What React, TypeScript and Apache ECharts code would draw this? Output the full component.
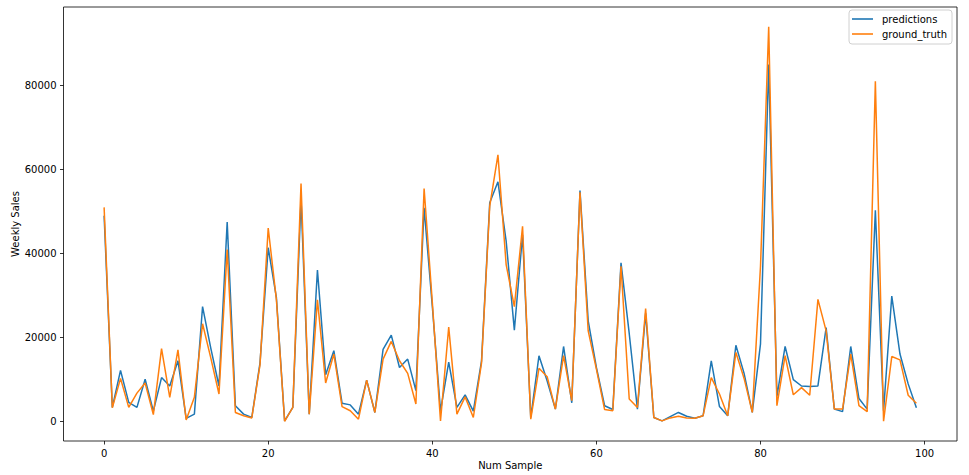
import React, { useEffect, useRef } from "react";
import * as echarts from "echarts";

const predictions = [
  49000, 3400, 12200, 4600, 3400, 10100, 2500, 10500, 8500, 14500,
  800, 1800, 27400, 17500, 8500, 47500, 3800, 1800, 1000, 14000,
  41400, 29500, 200, 3400, 53000, 1800, 36100, 11200, 16900, 4400,
  4000, 1800, 9900, 2200, 17200, 20600, 12900, 14900, 7400, 50900,
  27500, 2600, 14200, 3400, 6400, 2500, 14500, 52100, 57100, 43000,
  21800, 44500, 1000, 15700, 9700, 3000, 17900, 4500, 55000, 24000,
  12900, 3800, 2900, 37800, 21000, 3000, 25800, 1000, 200, 1200,
  2200, 1300, 800, 1400, 14500, 3600, 1400, 18200, 11500, 2200,
  18500, 85000, 6000, 17900, 10000, 8500, 8400, 8500, 22400, 3000,
  2400, 17900, 5500, 3000, 50300, 2600, 29900, 16100, 9000, 3300,
];

const groundTruth = [
  51000, 3300, 10300, 3400, 6800, 9200, 1700, 17400, 5800, 17100,
  400, 5800, 23300, 15200, 6600, 41000, 2200, 1400, 900, 13500,
  46100, 29000, 100, 3400, 56700, 1800, 29000, 9200, 16100, 3600,
  2600, 600, 9900, 2200, 14900, 19100, 14500, 11500, 4200, 55500,
  28500, 200, 22500, 1800, 5900, 1000, 14000, 51300, 63500, 37400,
  27400, 46500, 600, 12700, 10700, 3000, 15700, 5000, 54600, 21600,
  12500, 2900, 2600, 37000, 5400, 3400, 26900, 1000, 200, 900,
  1300, 900, 800, 1400, 10500, 6600, 1400, 16500, 10300, 2200,
  37000, 94000, 3800, 15700, 6400, 8100, 6300, 29100, 21600, 3000,
  3000, 16100, 3800, 2400, 81000, 100, 15500, 14700, 6300, 4400,
];

const xTicks = [0, 20, 40, 60, 80, 100];
const yTicks = [0, 20000, 40000, 60000, 80000];

const FONT = "DejaVu Sans";

export default function App() {
  const ref = useRef<HTMLDivElement>(null);

  useEffect(() => {
    if (!ref.current) return;
    const chart = echarts.init(ref.current, undefined, { renderer: "svg" });
    const n = predictions.length;
    const xMin = -0.05 * (n - 1);
    const xMax = (n - 1) * 1.05;
    const all = predictions.concat(groundTruth);
    const dMin = Math.min(...all);
    const dMax = Math.max(...all);
    const span = dMax - dMin;
    const yMin = dMin - 0.05 * span;
    const yMax = dMax + 0.05 * span;

    const axisCommon = {
      axisLine: { show: false, onZero: false },
      axisTick: {
        show: true,
        length: 3.5,
        inside: false,
        lineStyle: { color: "#000", width: 0.8 },
      },
      splitLine: { show: false },
    };

    chart.setOption({
      animation: false,
      backgroundColor: "#fff",
      grid: {
        left: 63.5,
        right: 12,
        top: 7,
        bottom: 34,
        show: true,
        borderColor: "#000",
        borderWidth: 0.8,
        backgroundColor: "#fff",
        outerBoundsMode: "none",
        containLabel: false,
      },
      legend: {
        orient: "vertical",
        left: 849,
        top: 10,
        padding: [3, 5, 4, 3],
        itemGap: 3,
        itemWidth: 21,
        itemHeight: 1.6,
        icon: "rect",
        borderColor: "#d0d0d0",
        borderWidth: 1,
        borderRadius: 3,
        backgroundColor: "rgba(255,255,255,0.8)",
        textStyle: {
          fontFamily: FONT,
          fontSize: 10,
          color: "#000",
          lineHeight: 12,
          padding: [0, 0, 0, 4],
        },
        data: ["predictions", "ground_truth"],
      },
      xAxis: {
        type: "value",
        min: xMin,
        max: xMax,
        ...axisCommon,
        axisTick: { ...axisCommon.axisTick, customValues: xTicks },
        axisLabel: {
          customValues: xTicks,
          margin: 7,
          fontFamily: FONT,
          fontSize: 10,
          color: "#000",
          formatter: (v: number) => String(v),
        },
        name: "Num Sample",
        nameLocation: "middle",
        nameGap: 19,
        nameMoveOverlap: false,
        nameTextStyle: { fontFamily: FONT, fontSize: 10, color: "#000" },
      },
      yAxis: {
        type: "value",
        min: yMin,
        max: yMax,
        ...axisCommon,
        axisTick: { ...axisCommon.axisTick, customValues: yTicks },
        axisLabel: {
          customValues: yTicks,
          margin: 7,
          fontFamily: FONT,
          fontSize: 10,
          color: "#000",
          formatter: (v: number) => String(v),
        },
        name: "Weekly Sales",
        nameLocation: "middle",
        nameGap: 43,
        nameMoveOverlap: false,
        nameTextStyle: { fontFamily: FONT, fontSize: 10, color: "#000" },
      },
      series: [
        {
          name: "predictions",
          type: "line",
          data: predictions.map((v, i) => [i, v]),
          showSymbol: false,
          symbol: "none",
          color: "#1f77b4",
          lineStyle: { width: 1.5, color: "#1f77b4" },
          z: 2,
        },
        {
          name: "ground_truth",
          type: "line",
          data: groundTruth.map((v, i) => [i, v]),
          showSymbol: false,
          symbol: "none",
          color: "#ff7f0e",
          lineStyle: { width: 1.5, color: "#ff7f0e" },
          z: 3,
        },
      ],
    });
    return () => chart.dispose();
  }, []);

  return (
    <div
      ref={ref}
      style={{ position: "absolute", left: 0, top: 0, width: 969, height: 475 }}
    />
  );
}
